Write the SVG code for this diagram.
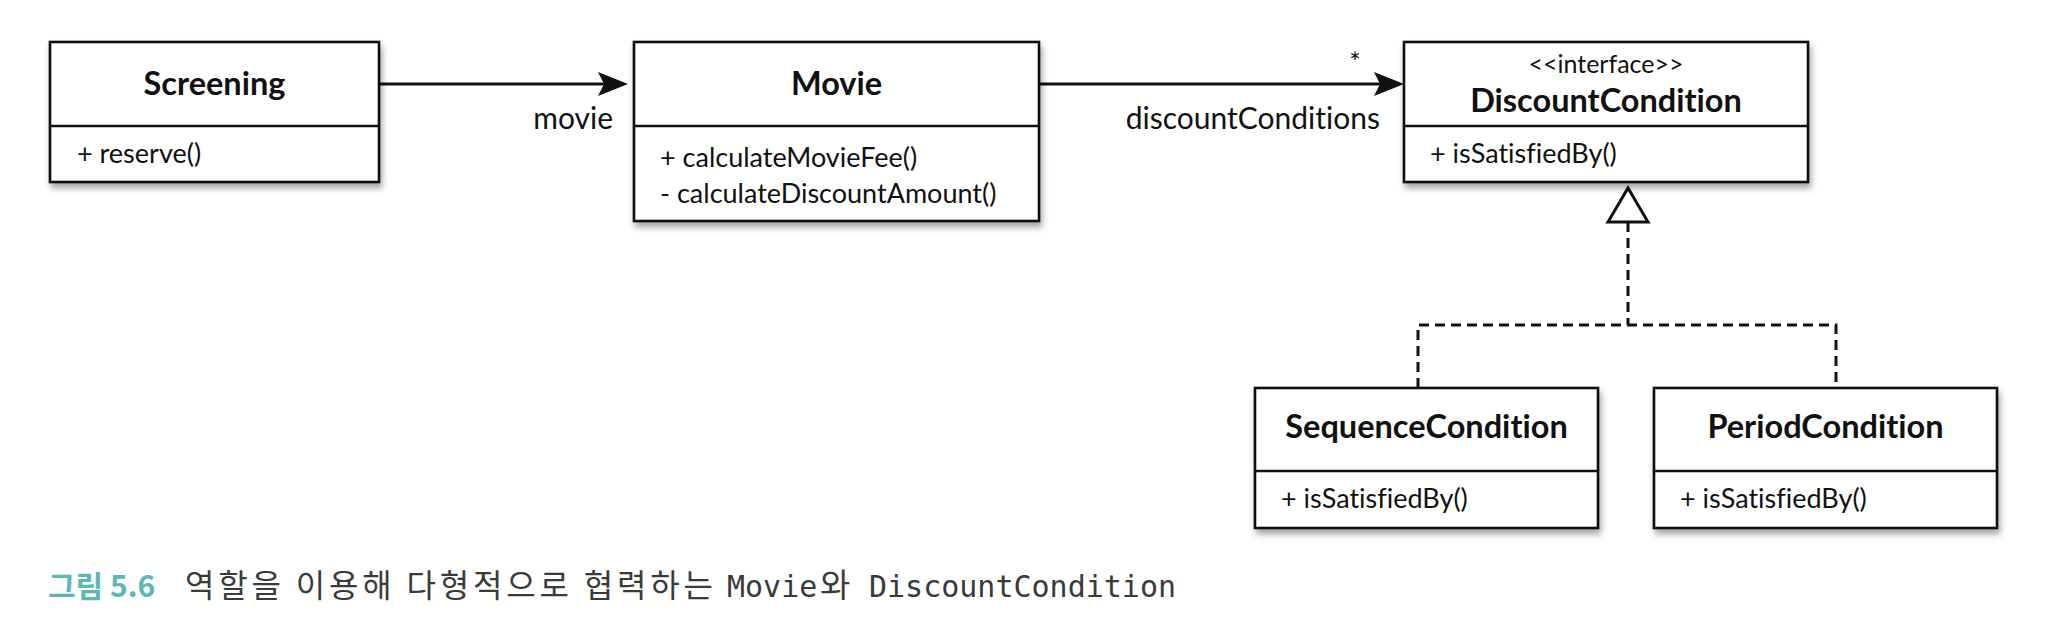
<svg xmlns="http://www.w3.org/2000/svg" width="2048" height="633" viewBox="0 0 2048 633">
  <style>
    text { font-variant-ligatures: none; font-feature-settings: "liga" 0, "clig" 0, "dlig" 0; }
    .box { fill: #ffffff; stroke: #111111; stroke-width: 2.6; }
    .div { stroke: #111111; stroke-width: 2.6; }
    .title { font-family: Lato, "Open Sans", sans-serif; font-weight: bold; font-size: 32.5px; fill: #111111; text-anchor: middle; }
    .stereo { font-family: Lato, "Open Sans", sans-serif; font-size: 25px; fill: #111111; text-anchor: middle; }
    .method { font-family: Lato, "Open Sans", sans-serif; font-size: 27px; fill: #111111; }
    .label { font-family: Lato, "Open Sans", sans-serif; font-size: 30px; fill: #111111; }
    .assoc { stroke: #111111; stroke-width: 3; fill: none; }
    .dash { stroke: #111111; stroke-width: 3; fill: none; stroke-dasharray: 10 6; }
    .cap-num { font-family: "Noto Sans CJK KR", sans-serif; font-weight: bold; font-size: 30px; fill: #5cb8b2; }
    .cap-ko { font-family: "Noto Sans CJK KR", sans-serif; font-size: 32px; fill: #3a3a3a; }
    .cap-mono { font-family: "DejaVu Sans Mono", "Noto Sans CJK KR", monospace; font-size: 30px; fill: #3a3a3a; }
    .cap-wa { font-family: "Noto Sans CJK KR", sans-serif; font-size: 33px; fill: #3a3a3a; }
  </style>
  <defs>
    <filter id="shadow" x="-5%" y="-10%" width="115%" height="130%">
      <feDropShadow dx="2" dy="5" stdDeviation="3" flood-color="#000000" flood-opacity="0.35"/>
    </filter>
    <marker id="arrow" viewBox="0 0 30 24" refX="20" refY="12" markerWidth="30" markerHeight="24" orient="auto" markerUnits="userSpaceOnUse">
      <path d="M0,0 L30,12 L0,24 L6,12 Z" fill="#111111"/>
    </marker>
  </defs>
  <rect width="2048" height="633" fill="#ffffff"/>

  <g id="connectors">
    <line class="assoc" x1="379" y1="84" x2="618" y2="84" marker-end="url(#arrow)"/>
    <text class="label" x="613" y="129" text-anchor="end">movie</text>
    <line class="assoc" x1="1039" y1="84" x2="1394" y2="84" marker-end="url(#arrow)"/>
    <text class="label" x="1380" y="129" text-anchor="end">discountConditions</text>
    <text class="stereo" x="1355" y="72" style="font-size:27px">*</text>
    <line class="dash" x1="1628" y1="222" x2="1628" y2="325"/>
    <polyline class="dash" points="1418,388 1418,325 1836,325 1836,388"/>
    <polygon points="1628,188 1648,222 1608,222" fill="#ffffff" stroke="#111111" stroke-width="3" stroke-linejoin="miter"/>
  </g>

  <g id="screening">
    <rect class="box" x="50" y="42" width="329" height="140" filter="url(#shadow)"/>
    <line class="div" x1="50" y1="126" x2="379" y2="126"/>
    <text class="title" x="214.5" y="95">Screening</text>
    <text class="method" x="77" y="163">+ reserve()</text>
  </g>

  <g id="movie">
    <rect class="box" x="634" y="42" width="405" height="179" filter="url(#shadow)"/>
    <line class="div" x1="634" y1="126" x2="1039" y2="126"/>
    <text class="title" x="836.5" y="95">Movie</text>
    <text class="method" x="660" y="167">+ calculateMovieFee()</text>
    <text class="method" x="660" y="203">- calculateDiscountAmount()</text>
  </g>

  <g id="discount-condition">
    <rect class="box" x="1404" y="42" width="404" height="140" filter="url(#shadow)"/>
    <line class="div" x1="1404" y1="126" x2="1808" y2="126"/>
    <text class="stereo" x="1606" y="73">&lt;&lt;interface&gt;&gt;</text>
    <text class="title" x="1606" y="112">DiscountCondition</text>
    <text class="method" x="1430" y="163">+ isSatisfiedBy()</text>
  </g>

  <g id="sequence-condition">
    <rect class="box" x="1255" y="388" width="343" height="140" filter="url(#shadow)"/>
    <line class="div" x1="1255" y1="471" x2="1598" y2="471"/>
    <text class="title" x="1426.5" y="438">SequenceCondition</text>
    <text class="method" x="1281" y="508">+ isSatisfiedBy()</text>
  </g>

  <g id="period-condition">
    <rect class="box" x="1654" y="388" width="343" height="140" filter="url(#shadow)"/>
    <line class="div" x1="1654" y1="471" x2="1997" y2="471"/>
    <text class="title" x="1825.5" y="438">PeriodCondition</text>
    <text class="method" x="1680" y="508">+ isSatisfiedBy()</text>
  </g>

  <g id="caption">
    <text class="cap-num" x="48" y="597">그림 5.6</text>
    <text class="cap-ko" x="185" y="597" textLength="528" lengthAdjust="spacing">역할을 이용해 다형적으로 협력하는</text>
    <text y="597"><tspan class="cap-mono" x="727">Movie</tspan><tspan class="cap-wa" x="820">와</tspan><tspan class="cap-mono" x="869">DiscountCondition</tspan></text>
  </g>
</svg>
